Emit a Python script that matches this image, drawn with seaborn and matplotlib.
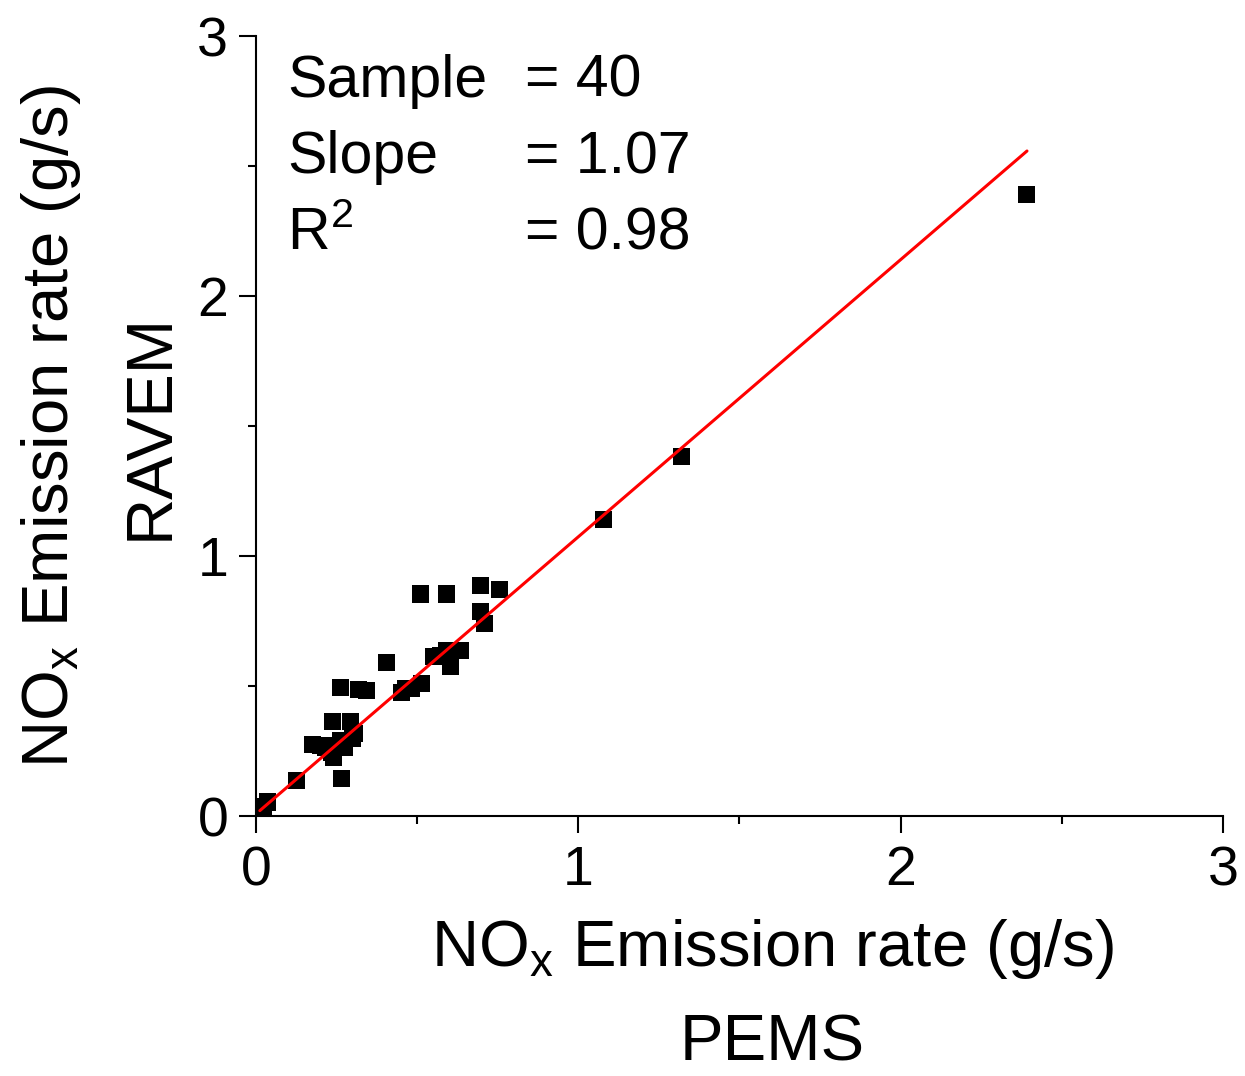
import numpy as np
import pandas as pd
import matplotlib
matplotlib.use("Agg")
import matplotlib.pyplot as plt
import seaborn as sns

# Data
pems = [2.392, 1.319, 1.077, 0.509, 0.590, 0.698, 0.754, 0.698, 0.710, 0.406,
        0.552, 0.590, 0.633, 0.602, 0.450, 0.484, 0.515, 0.261, 0.319, 0.344,
        0.236, 0.292, 0.174, 0.217, 0.261, 0.298, 0.239, 0.233, 0.264, 0.127,
        0.022, 0.037, 0.571, 0.276, 0.199, 0.463, 0.307, 0.012, 0.614, 0.254]
ravem = [2.392, 1.381, 1.142, 0.854, 0.854, 0.885, 0.873, 0.788, 0.742, 0.592,
         0.612, 0.638, 0.638, 0.577, 0.477, 0.492, 0.508, 0.496, 0.485, 0.481,
         0.362, 0.362, 0.277, 0.265, 0.292, 0.300, 0.227, 0.246, 0.146, 0.138,
         0.038, 0.054, 0.619, 0.262, 0.273, 0.492, 0.319, 0.031, 0.638, 0.273]
fit_slope = 1.066
fit_intercept = 0.008
stat_names = ["Sample", "Slope", "R$^2$"]
stat_values = ["= 40", "= 1.07", "= 0.98"]
ticks = [0, 1, 2, 3]

sns.set_style("ticks")
plt.rcParams['font.family'] = ['Liberation Sans', 'DejaVu Sans']
plt.rcParams['mathtext.fontset'] = 'custom'
plt.rcParams['mathtext.rm'] = 'Liberation Sans'
plt.rcParams['mathtext.it'] = 'Liberation Sans'
plt.rcParams['mathtext.bf'] = 'Liberation Sans'
plt.rcParams['text.color'] = 'black'
plt.rcParams['axes.labelcolor'] = 'black'
plt.rcParams['xtick.color'] = 'black'
plt.rcParams['ytick.color'] = 'black'
plt.rcParams['axes.edgecolor'] = 'black'

df = pd.DataFrame({"PEMS": pems, "RAVEM": ravem})

fig = plt.figure(figsize=(12.45, 10.76), dpi=100)
ax = fig.add_axes([0.2056, 0.2416, 0.7767, 0.7249])

sns.scatterplot(data=df, x="PEMS", y="RAVEM", marker="s", s=150, color="black",
                edgecolor="none", linewidth=0, ax=ax, zorder=3)

xl = np.array([min(pems), max(pems)])
sns.lineplot(x=xl, y=fit_slope * xl + fit_intercept, color="#ff0000", linewidth=2.2, ax=ax, zorder=4)

ax.set_xlim(0, 3)
ax.set_ylim(0, 3)
ax.set_xticks(ticks)
ax.set_yticks(ticks)
ax.set_xticks([0.5, 1.5, 2.5], minor=True)
ax.set_yticks([0.5, 1.5, 2.5], minor=True)
ax.tick_params(axis='both', which='major', labelsize=40, length=12, width=1.5, direction='out', color='black', labelcolor='black')
ax.tick_params(axis='x', which='major', pad=9)
ax.tick_params(axis='y', which='major', pad=8)
ax.tick_params(axis='both', which='minor', length=6, width=1.5, direction='out', color='black')
for sp in ["top", "right"]:
    ax.spines[sp].set_visible(False)
for sp in ["left", "bottom"]:
    ax.spines[sp].set_linewidth(1.5)
    ax.spines[sp].set_color('black')

ax.set_xlabel("NO$_x$ Emission rate (g/s)\nPEMS", fontsize=47, linespacing=1.7, labelpad=14, x=0.534)
ax.set_ylabel("NO$_x$ Emission rate (g/s)\nRAVEM", fontsize=47, linespacing=1.8, labelpad=12)

for i, (n, v) in enumerate(zip(stat_names, stat_values)):
    yy = 0.942 - i * 0.098
    ax.text(0.032, yy, n, transform=ax.transAxes, fontsize=42.5, va='center', ha='left', color='black')
    ax.text(0.278, yy, v, transform=ax.transAxes, fontsize=42.5, va='center', ha='left', color='black')

fig.savefig("out.png", dpi=100)
